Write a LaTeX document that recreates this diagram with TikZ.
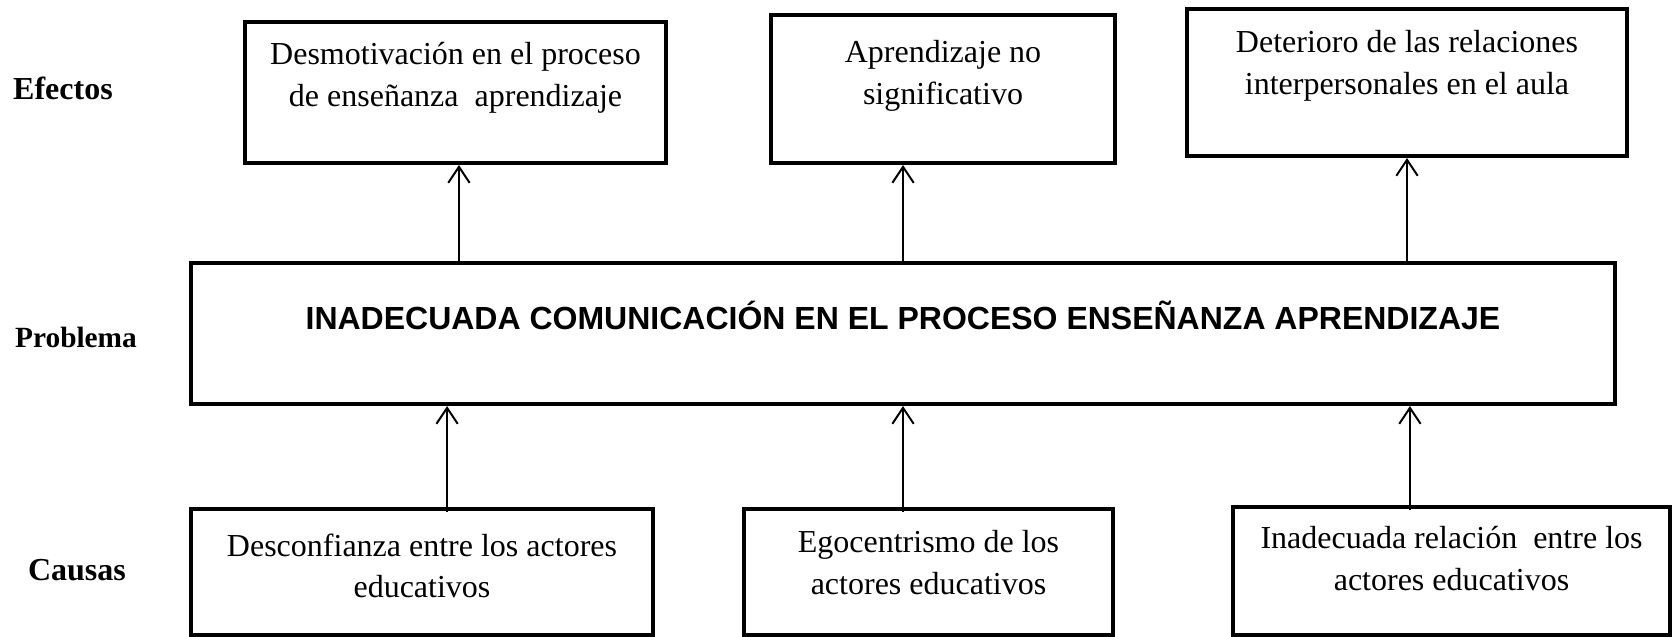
\documentclass[tikz,border=0pt]{standalone}
\usepackage{fontspec}
\setmainfont{Liberation Serif}
\newfontfamily\probfont{Liberation Sans}
\usetikzlibrary{arrows.meta}

\begin{document}
\begin{tikzpicture}[x=0.375pt,y=-0.375pt,
    caja/.style={draw,line width=1.5pt,inner sep=0pt},
    txt/.style={align=center,inner sep=0pt,anchor=north,font=\fontsize{12}{15.5}\selectfont},
    lab/.style={anchor=base,inner sep=0pt,font=\bfseries\fontsize{12}{14}\selectfont},
    arr/.style={line width=0.75pt,-{Straight Barb[length=6pt,width=8pt]}}]
            \useasboundingbox (0,0) rectangle (1674,637);

            % etiquetas laterales
            \node[lab] (efectos) at (63,100) {Efectos};
            \node[lab,font=\bfseries\fontsize{11}{13}\selectfont] (problema) at (76,348) {Problema};
            \node[lab] (causas) at (77,580) {Causas};

            % efectos
            \node[caja,minimum width=157.9pt,minimum height=52.9pt] (eff1) at (455.5,92.5) {};
            \node[caja,minimum width=129pt,minimum height=55.5pt] (eff2) at (943,89) {};
            \node[caja,minimum width=165pt,minimum height=55.1pt] (eff3) at (1407,82.5) {};
            \node[txt] (eff1t) at (455.5,42) {Desmotivación en el proceso\\de enseñanza\ \ aprendizaje};
            \node[txt] (eff2t) at (943,40) {Aprendizaje no\\significativo};
            \node[txt] (eff3t) at (1407,30) {Deterioro de las relaciones\\interpersonales en el aula};

            % problema
            \node[caja,minimum width=534pt,minimum height=52.9pt] (prob) at (903,333.5) {};
            \node[anchor=base,inner sep=0pt,font=\probfont\bfseries\fontsize{12}{14}\selectfont] (probt) at (903,330) {INADECUADA COMUNICACIÓN EN EL PROCESO ENSEÑANZA APRENDIZAJE};

            % causas
            \node[caja,minimum width=173.3pt,minimum height=47.3pt] (cau1) at (422,572) {};
            \node[caja,minimum width=138.4pt,minimum height=47.3pt] (cau2) at (928.5,572) {};
            \node[caja,minimum width=163.9pt,minimum height=48pt] (cau3) at (1451.5,571) {};
            \node[txt] (cau1t) at (422,533) {Desconfianza entre los actores\\educativos};
            \node[txt] (cau2t) at (928.5,530) {Egocentrismo de los\\actores educativos};
            \node[txt] (cau3t) at (1451.5,526) {Inadecuada relación\ \ entre los\\actores educativos};

            \draw[arr] ([xshift=1.3pt]eff1.south |- prob.north) -- ([xshift=1.3pt]eff1.south);
            \draw[arr] (prob.north) -- (prob.north |- eff2.south);
            \draw[arr] (eff3.south |- prob.north) -- (eff3.south);
            \draw[arr,shorten <=-2pt] ([xshift=9.4pt]cau1.north) -- ([xshift=9.4pt]cau1.north |- prob.south);
            \draw[arr,shorten <=-2pt] (prob.south |- cau2.north) -- (prob.south);
            \draw[arr,shorten <=-2pt] ([xshift=-15.6pt]cau3.north) -- ([xshift=-15.6pt]cau3.north |- prob.south);
          \end{tikzpicture}
\end{document}
